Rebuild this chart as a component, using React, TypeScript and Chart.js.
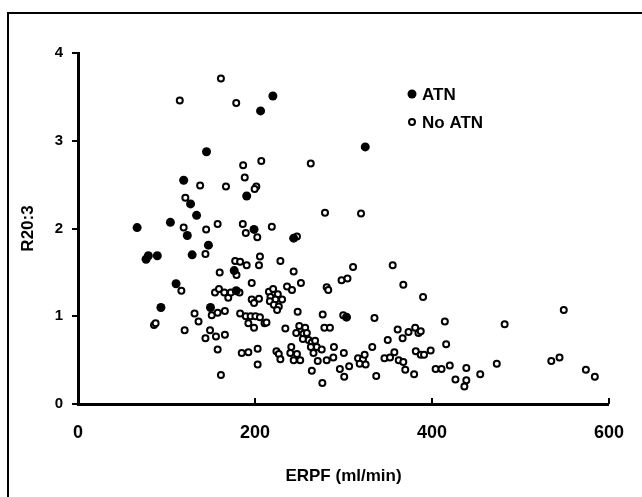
import React, { useEffect, useRef } from "react";
import { Chart, registerables } from "chart.js";

Chart.register(...registerables);

// ---- data ----
const seriesNames = ["ATN", "No ATN"];
const xTitle = "ERPF (ml/min)";
const yTitle = "R20:3";
const xTicks = [0, 200, 400, 600];
const yTicks = [0, 1, 2, 3, 4];

const atnX = [66.8, 76.9, 79.5, 89.6, 93.7, 104.4, 110.8, 119.4, 123.5, 127.2, 129, 134, 145.2, 147.4, 149.7, 176.5, 178.8, 190.6, 198.9, 206.3, 220.2, 243.7, 303.4, 324.6];
const atnY = [2.01, 1.65, 1.69, 1.69, 1.1, 2.07, 1.37, 2.55, 1.92, 2.28, 1.7, 2.15, 2.875, 1.81, 1.1, 1.52, 1.29, 2.37, 1.99, 3.34, 3.51, 1.89, 0.99, 2.93];

const noAtnX = [
  161.5, 115, 178.8, 186.6, 188.4, 138, 167.2, 207.1, 201.5, 199.6, 263, 279.1, 319.8, 186.2, 189.6, 202.6, 219, 247.4, 121.3, 119.4, 144.8, 157.8,
  144, 160.1, 177.6, 183.2, 190.6, 179.1, 196.3, 116.8, 154.8, 159.3, 165.3, 169.8, 172.7, 182.5, 196.3, 204.5,
  131.7, 136.2, 151.1, 157.8, 166, 183.2, 189.6, 195.1, 200.5, 192.5, 198.9, 85.9, 87.7, 120.5, 149.2, 155.9, 166, 144, 157.8, 185, 192.5, 203, 203, 161.5,
  205.6, 204.5, 228.7, 243.7, 251.9, 236.2, 241.8,
  215.7, 220.5, 225.8, 217.5, 223.1, 230.6, 216.8, 221.3, 226.9, 225,
  198.9, 205.6, 210.8, 213, 248.2, 234.3,
  250, 256.7, 246.6, 254.8, 258.6, 260.5, 254.1, 264.2, 267.9, 269.8, 263.1, 275.4, 266.1, 270.9, 281, 288.5, 289.2, 300.4,
  276.5, 299.7, 278.4, 284.7, 281, 282.8, 297.8, 304.5, 310.8, 355.6, 367.6, 389.9, 335,
  361.2, 366.8, 373.5, 381, 384.7, 387.3, 350, 332.5,
  316.4, 322, 323.9, 318.3, 325, 295.9, 300.8, 306.4, 264.2, 276.1, 337,
  346.3, 352.6, 357.5, 362.4, 367.6, 369.8, 379.8,
  381.7, 387.3, 391, 398.5, 404.1, 410.8,
  224.2, 226.9, 228.7, 241, 239.9, 247.4, 243.7, 251.1,
  416, 414.5,
  420.1, 426.5, 438.8, 438.8, 436.6, 454.5, 473.2, 482.1, 534.8, 544.1, 548.9, 573.9, 584,
];
const noAtnY = [
  3.71, 3.46, 3.43, 2.72, 2.58, 2.49, 2.48, 2.77, 2.48, 2.45, 2.74, 2.18, 2.17, 2.05, 1.95, 1.9, 2.02, 1.91, 2.35, 2.01, 1.99, 2.05,
  1.71, 1.5, 1.63, 1.62, 1.58, 1.47, 1.38, 1.29, 1.27, 1.31, 1.27, 1.21, 1.27, 1.27, 1.19, 1.2,
  1.03, 0.94, 1.01, 1.04, 1.06, 1.03, 1.0, 1.0, 1.0, 0.92, 0.87, 0.9, 0.92, 0.84, 0.84, 0.77, 0.79, 0.75, 0.62, 0.58, 0.59, 0.63, 0.45, 0.33,
  1.68, 1.58, 1.63, 1.51, 1.38, 1.34, 1.3,
  1.28, 1.31, 1.25, 1.22, 1.19, 1.19, 1.17, 1.13, 1.11, 1.07,
  1.15, 0.99, 0.92, 0.93, 1.05, 0.86,
  0.89, 0.87, 0.81, 0.8, 0.81, 0.73, 0.74, 0.7, 0.72, 0.65, 0.65, 0.62, 0.58, 0.49, 0.5, 0.53, 0.65, 0.58,
  1.02, 1.01, 0.87, 0.87, 1.33, 1.3, 1.41, 1.43, 1.56, 1.58, 1.36, 1.22, 0.98,
  0.85, 0.75, 0.82, 0.87, 0.81, 0.83, 0.73, 0.65,
  0.52, 0.51, 0.56, 0.46, 0.45, 0.4, 0.31, 0.43, 0.38, 0.24, 0.32,
  0.52, 0.53, 0.59, 0.5, 0.48, 0.39, 0.34,
  0.6, 0.56, 0.56, 0.61, 0.4, 0.4,
  0.6, 0.57, 0.51, 0.65, 0.58, 0.57, 0.5, 0.5,
  0.68, 0.94,
  0.44, 0.28, 0.41, 0.27, 0.2, 0.34, 0.46, 0.91, 0.49, 0.53, 1.07, 0.39, 0.31,
];

const FONT = "'Liberation Sans', Arial, Helvetica, sans-serif";

export default function App() {
  const ref = useRef<HTMLCanvasElement | null>(null);

  useEffect(() => {
    const canvas = ref.current;
    if (!canvas) return;

    const framePlugin = {
      id: "frame",
      beforeDraw(chart: any) {
        const ctx = chart.ctx;
        ctx.save();
        ctx.fillStyle = "#fff";
        ctx.fillRect(0, 0, chart.width, chart.height);
        ctx.strokeStyle = "#000";
        ctx.lineWidth = 2;
        ctx.beginPath();
        ctx.moveTo(8, chart.height);
        ctx.lineTo(8, 13);
        ctx.lineTo(chart.width, 13);
        ctx.stroke();
        ctx.restore();
      },
    };

    const innerTicksPlugin = {
      id: "innerTicks",
      afterDraw(chart: any) {
        const ctx = chart.ctx;
        const xs = chart.scales.x;
        const b = chart.chartArea.bottom;
        ctx.save();
        ctx.strokeStyle = "#000";
        ctx.lineWidth = 2;
        xTicks.slice(1).forEach((v) => {
          const px = Math.round(xs.getPixelForValue(v));
          ctx.beginPath();
          ctx.moveTo(px, b);
          ctx.lineTo(px, b - 6);
          ctx.stroke();
        });
        ctx.restore();
      },
    };

    const legendPlugin = {
      id: "innerLegend",
      afterDraw(chart: any) {
        const ctx = chart.ctx;
        const mx = 412;
        const rows = [94, 122];
        ctx.save();
        ctx.font = `bold 17px ${FONT}`;
        ctx.textBaseline = "middle";
        ctx.textAlign = "left";
        chart.data.datasets.forEach((ds: any, i: number) => {
          const y = rows[i];
          ctx.beginPath();
          ctx.arc(mx, y, ds.pointRadius, 0, Math.PI * 2);
          ctx.fillStyle = ds.backgroundColor;
          ctx.fill();
          if (ds.borderWidth) {
            ctx.lineWidth = ds.borderWidth;
            ctx.strokeStyle = ds.borderColor;
            ctx.stroke();
          }
          ctx.fillStyle = "#000";
          ctx.fillText(ds.label, mx + 10, y + 1);
        });
        ctx.restore();
      },
    };

    const chart = new Chart(canvas, {
      type: "scatter",
      data: {
        datasets: [
          {
            label: seriesNames[0],
            data: atnX.map((x, i) => ({ x, y: atnY[i] })),
            pointRadius: 4.5,
            pointHoverRadius: 4.5,
            backgroundColor: "#000",
            borderColor: "#000",
            borderWidth: 0,
          },
          {
            label: seriesNames[1],
            data: noAtnX.map((x, i) => ({ x, y: noAtnY[i] })),
            pointRadius: 3,
            pointHoverRadius: 3,
            backgroundColor: "#fff",
            borderColor: "#000",
            borderWidth: 2,
          },
        ],
      },
      options: {
        animation: false,
        responsive: false,
        devicePixelRatio: 1,
        events: [],
        layout: { padding: { top: 53, right: 28, bottom: 0, left: 0 } },
        plugins: {
          legend: { display: false },
          tooltip: { enabled: false },
        },
        scales: {
          x: {
            type: "linear",
            min: 0,
            max: 600,
            afterBuildTicks: (s: any) => {
              s.ticks = xTicks.map((v) => ({ value: v }));
            },
            afterFit: (s: any) => {
              s.height = 93;
            },
            grid: { display: false, drawTicks: false },
            border: { display: true, width: 3, color: "#000" },
            ticks: {
              color: "#000",
              padding: 18,
              maxRotation: 0,
              font: { family: FONT, size: 18, weight: "bold" },
            },
            title: {
              display: true,
              text: xTitle,
              color: "#000",
              font: { family: FONT, size: 17, weight: "bold" },
              padding: { top: 0, bottom: 10 },
            },
          },
          y: {
            type: "linear",
            min: 0,
            max: 4,
            afterBuildTicks: (s: any) => {
              s.ticks = yTicks.map((v) => ({ value: v }));
            },
            afterFit: (s: any) => {
              s.width = 78;
            },
            grid: {
              display: true,
              drawOnChartArea: false,
              drawTicks: true,
              tickLength: 6,
              lineWidth: 2,
              color: "#000",
            },
            border: { display: true, width: 3, color: "#000" },
            ticks: {
              color: "#000",
              padding: 9,
              font: { family: FONT, size: 15, weight: "bold" },
            },
            title: {
              display: true,
              text: yTitle,
              color: "#000",
              font: { family: FONT, size: 17, weight: "bold" },
              padding: { top: 18, bottom: 0 },
            },
          },
        },
      },
      plugins: [framePlugin, innerTicksPlugin, legendPlugin],
    } as any);

    return () => chart.destroy();
  }, []);

  return (
    <div style={{ position: "fixed", left: 0, top: 0, width: 642, height: 497, background: "#fff" }}>
      <canvas ref={ref} width={642} height={497} style={{ display: "block", width: 642, height: 497 }} />
    </div>
  );
}
